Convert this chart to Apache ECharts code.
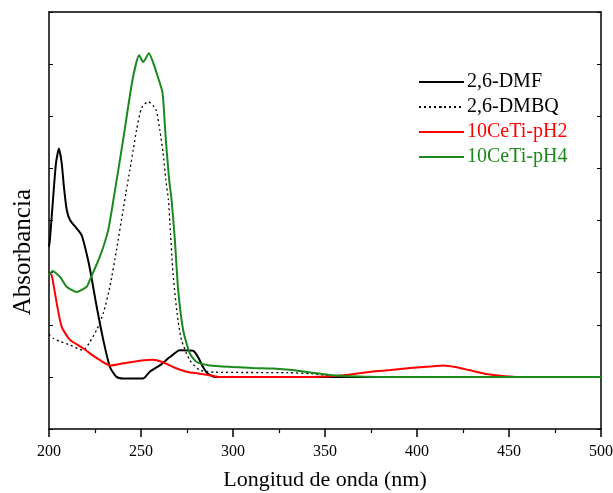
<!DOCTYPE html>
<html><head><meta charset="utf-8">
<script src="https://cdn.jsdelivr.net/npm/echarts@6/dist/echarts.min.js"></script>
<style>html,body{margin:0;padding:0;background:#fff}#c{width:613px;height:493px}</style>
</head><body><div id="c"></div>
<script>
const seriesNames = ['2,6-DMF', '2,6-DMBQ', '10CeTi-pH2', '10CeTi-pH4'];
const xTicks = [200, 250, 300, 350, 400, 450, 500];
const xTitle = 'Longitud de onda (nm)';
const yTitle = 'Absorbancia';

const dmfX = [200, 200.5, 202.3, 203.8, 205.4, 206.9, 208.1, 209.6, 211.4, 215, 217.7, 219.5, 222.2, 225.9, 229.5, 233.1, 236.7, 240.3, 251.2, 254.8, 260.2, 265.7, 271.1, 278.3, 281, 283.7, 286.4, 290, 400, 500];
const dmfY = [2.5, 2.63, 3.46, 4.10, 4.38, 4.10, 3.65, 3.21, 3.01, 2.85, 2.72, 2.5, 2.08, 1.35, 0.71, 0.19, 0, -0.03, -0.03, 0.10, 0.22, 0.38, 0.51, 0.50, 0.38, 0.19, 0.06, 0, 0, 0];

const dmbqX = [200, 202.3, 206, 211.4, 218.6, 222.2, 225.9, 229.5, 233.1, 236.7, 240.3, 241.8, 244, 245.8, 247.6, 250.3, 253.9, 258.1, 260.2, 262, 263.5, 264.9, 265.7, 267.4, 269.6, 272, 276.5, 281.9, 290, 330, 343, 353.7, 370, 500];
const dmbqY = [0.82, 0.74, 0.68, 0.61, 0.51, 0.67, 0.90, 1.22, 1.73, 2.44, 3.21, 3.53, 3.98, 4.36, 4.74, 5.16, 5.28, 5.13, 4.74, 4.30, 3.78, 3.40, 2.95, 1.99, 1.22, 0.71, 0.32, 0.13, 0.09, 0.08, 0.06, 0.02, 0, 0];

const ph2X = [200, 201.4, 204.2, 206.9, 211.4, 218.6, 222.2, 227.7, 233.1, 240.3, 249.4, 256.6, 261.2, 267.5, 274.7, 281.9, 287.4, 292, 343, 360, 375, 385.7, 396.3, 407, 414.4, 420.8, 428.2, 436.7, 445.3, 453.8, 500];
const ph2Y = [1.99, 1.96, 1.41, 0.96, 0.71, 0.55, 0.45, 0.32, 0.22, 0.26, 0.31, 0.33, 0.29, 0.19, 0.10, 0.06, 0.03, 0, 0, 0.03, 0.10, 0.13, 0.17, 0.20, 0.22, 0.19, 0.13, 0.06, 0.02, 0, 0];

const ph4X = [200, 202, 206, 209.6, 215, 220.5, 222.2, 227.7, 232.2, 235.5, 240.3, 245.4, 249, 251.2, 254.3, 256.6, 259.3, 261.7, 263.5, 265.3, 266.6, 268.4, 270.2, 272.9, 276.5, 280.1, 287.4, 300, 311, 321.8, 332.4, 343, 353.7, 364, 380, 500];
const ph4Y = [1.94, 2.03, 1.92, 1.73, 1.63, 1.73, 1.86, 2.31, 2.82, 3.50, 4.55, 5.70, 6.17, 6.04, 6.21, 6.03, 5.74, 5.45, 4.55, 3.78, 3.40, 2.63, 1.67, 0.90, 0.45, 0.29, 0.22, 0.19, 0.17, 0.16, 0.13, 0.08, 0.03, 0.01, 0, 0];

const pairs = (xs, ys) => xs.map((x, i) => [x, ys[i]]);
const colors = ['#000000', '#000000', '#ff0000', '#1a8a1a'];
const font = '"Liberation Serif", "Times New Roman", serif';

const chart = echarts.init(document.getElementById('c'), null, {renderer: 'canvas'});
const mk = (name, data, color, type, width) => ({
  name, type: 'line', data, showSymbol: false, symbol: 'none', smooth: 0.2,
  lineStyle: {color, width, type}, itemStyle: {color}, z: 3
});
chart.setOption({
  animation: false,
  backgroundColor: '#fff',
  grid: {left: 49, right: 12, top: 12, bottom: 64, outerBoundsMode: 'none', containLabel: false},
  legend: {
    left: 413, top: 67, orient: 'vertical', itemWidth: 45, itemHeight: 2, itemGap: 5,
    textStyle: {fontFamily: font, fontSize: 20, padding: [0, 0, 0, -2]},
    data: seriesNames.map((n, i) => ({name: n, textStyle: {color: i < 2 ? '#000' : colors[i]}}))
  },
  graphic: [{
    type: 'text', left: 11, top: 189,
    rotation: Math.PI / 2,
    style: {text: yTitle, font: '25px ' + font, fill: '#000'}
  }],
  xAxis: [{
    type: 'value', min: 200, max: 500, interval: 50,
    name: xTitle, nameLocation: 'middle', nameGap: 40,
    nameTextStyle: {fontFamily: font, fontSize: 22, color: '#000'},
    axisLine: {onZero: false, lineStyle: {color: '#000', width: 1.5}},
    axisTick: {show: true, inside: false, length: 8, lineStyle: {color: '#000', width: 1.5}},
    minorTick: {show: true, splitNumber: 2, length: 4, lineStyle: {color: '#000', width: 1.2}},
    axisLabel: {fontFamily: font, fontSize: 16, color: '#000', margin: 15,
      formatter: v => xTicks.includes(v) ? String(v) : ''},
    splitLine: {show: false}
  }, {
    type: 'value', position: 'top', min: 200, max: 500,
    axisLine: {show: true, onZero: false, lineStyle: {color: '#000', width: 1.5}},
    axisTick: {show: false}, axisLabel: {show: false}, splitLine: {show: false}
  }],
  yAxis: [{
    type: 'value', min: -1, max: 7, interval: 1,
    axisLine: {show: true, onZero: false, lineStyle: {color: '#000', width: 1.5}},
    axisTick: {show: true, inside: true, length: 4, lineStyle: {color: '#000'}},
    axisLabel: {show: false}, splitLine: {show: false}
  }, {
    type: 'value', position: 'right', min: -1, max: 7, interval: 1,
    axisLine: {show: true, onZero: false, lineStyle: {color: '#000', width: 1.5}},
    axisTick: {show: true, inside: true, length: 4, lineStyle: {color: '#000'}},
    axisLabel: {show: false}, splitLine: {show: false}
  }],
  series: [
    mk(seriesNames[0], pairs(dmfX, dmfY), colors[0], 'solid', 2),
    mk(seriesNames[1], pairs(dmbqX, dmbqY), colors[1], [2, 3], 1.3),
    mk(seriesNames[2], pairs(ph2X, ph2Y), colors[2], 'solid', 2),
    mk(seriesNames[3], pairs(ph4X, ph4Y), colors[3], 'solid', 2)
  ]
});
</script></body></html>
